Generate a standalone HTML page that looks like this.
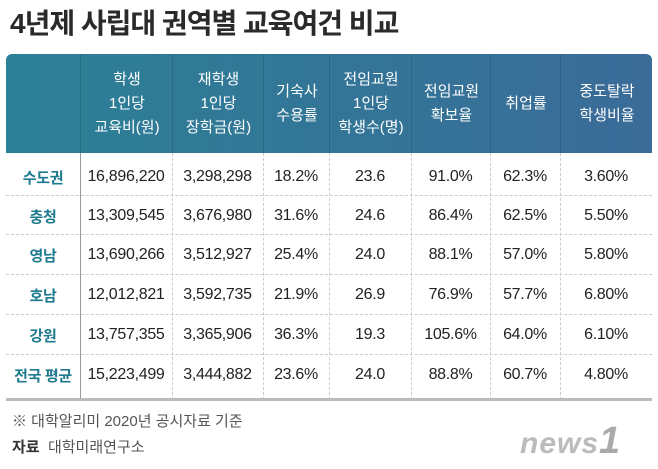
<!DOCTYPE html>
<html><head><meta charset="utf-8"><style>
body{margin:0;width:658px;height:469px;background:#fff;font-family:"Liberation Sans","Noto Sans CJK KR",sans-serif;position:relative;overflow:hidden}
.a{position:absolute}
#title{left:10px;top:2px;font-size:28px;font-weight:bold;color:#2a2a2a;letter-spacing:-1px;white-space:nowrap}
#hdr{left:6px;top:54px;width:646px;height:99px;background:linear-gradient(90deg,#2c8096,#3a6b98);border-radius:6px 6px 0 0}
.hc{position:absolute;top:54px;height:99px;display:flex;align-items:center;justify-content:center;text-align:center;color:#fff;font-size:15px;line-height:24px;border-left:1px solid rgba(0,0,0,0.12)}
.c{position:absolute;height:40px;display:flex;align-items:center;justify-content:center;font-size:16px;color:#222;letter-spacing:-0.3px}
.lab{color:#1e7a8e;font-weight:bold;font-size:15px}
.hl{position:absolute;left:6px;width:646px;border-top:1px dashed #ccc}
.vl{position:absolute;top:153px;height:247px;border-left:1px dashed #ccc}
#bot{left:6px;top:398px;width:646px;height:3px;background:#bbb}
.ft{position:absolute;left:12px;font-size:15px;color:#555}
</style></head><body>
<div class="a" id="title">4년제 사립대 권역별 교육여건 비교</div>
<div class="a" id="hdr"></div>
<div id="t"></div>
<div class="a" id="bot"></div>
<div class="ft" style="top:410px">※ 대학알리미 2020년 공시자료 기준</div>
<div class="ft" style="top:436px"><b style="color:#333">자료</b>&nbsp; 대학미래연구소</div>
<div class="a" style="left:520px;top:420px;font-size:30px;font-weight:bold;font-style:italic;color:#bbb;letter-spacing:1px">news<span style="font-size:38px;color:#aaa">1</span></div>
<script>
const headers=["","학생<br>1인당<br>교육비(원)","재학생<br>1인당<br>장학금(원)","기숙사<br>수용률","전임교원<br>1인당<br>학생수(명)","전임교원<br>확보율","취업률","중도탈락<br>학생비율"];
const regions=["수도권","충청","영남","호남","강원","전국 평균"];
const eduCost=["16,896,220","13,309,545","13,690,266","12,012,821","13,757,355","15,223,499"];
const scholarship=["3,298,298","3,676,980","3,512,927","3,592,735","3,365,906","3,444,882"];
const dorm=["18.2%","31.6%","25.4%","21.9%","36.3%","23.6%"];
const studentsPerFaculty=["23.6","24.6","24.0","26.9","19.3","24.0"];
const facultyRate=["91.0%","86.4%","88.1%","76.9%","105.6%","88.8%"];
const employment=["62.3%","62.5%","57.0%","57.7%","64.0%","60.7%"];
const dropout=["3.60%","5.50%","5.80%","6.80%","6.10%","4.80%"];
const cols=[6,80,172,263,329,411,490,560,652];
const rowTop=[157,196,235,275,315,355];
const t=document.getElementById('t');
headers.forEach((h,i)=>{const d=document.createElement('div');d.className='hc';
d.style.left=cols[i]+'px';d.style.width=(cols[i+1]-cols[i])+'px';if(i==0)d.style.borderLeft='none';d.innerHTML=h;


t.appendChild(d);});
const data=[regions,eduCost,scholarship,dorm,studentsPerFaculty,facultyRate,employment,dropout];
regions.forEach((r,ri)=>{
 data.forEach((col,ci)=>{const d=document.createElement('div');d.className='c'+(ci==0?' lab':'');
 d.style.left=cols[ci]+'px';d.style.width=(cols[ci+1]-cols[ci])+'px';d.style.top=rowTop[ri]+'px';d.textContent=col[ri];
 
 
 t.appendChild(d);});
 if(ri>0){const l=document.createElement('div');l.className='hl';l.style.top=(rowTop[ri]-1)+'px';
 
 
 t.appendChild(l);}
});
cols.slice(1,-1).forEach((x,i)=>{const v=document.createElement('div');v.className='vl';v.style.left=x+'px';
if(i==0){v.style.borderLeft='1px solid #999';}


t.appendChild(v);});
</script>
</body></html>
